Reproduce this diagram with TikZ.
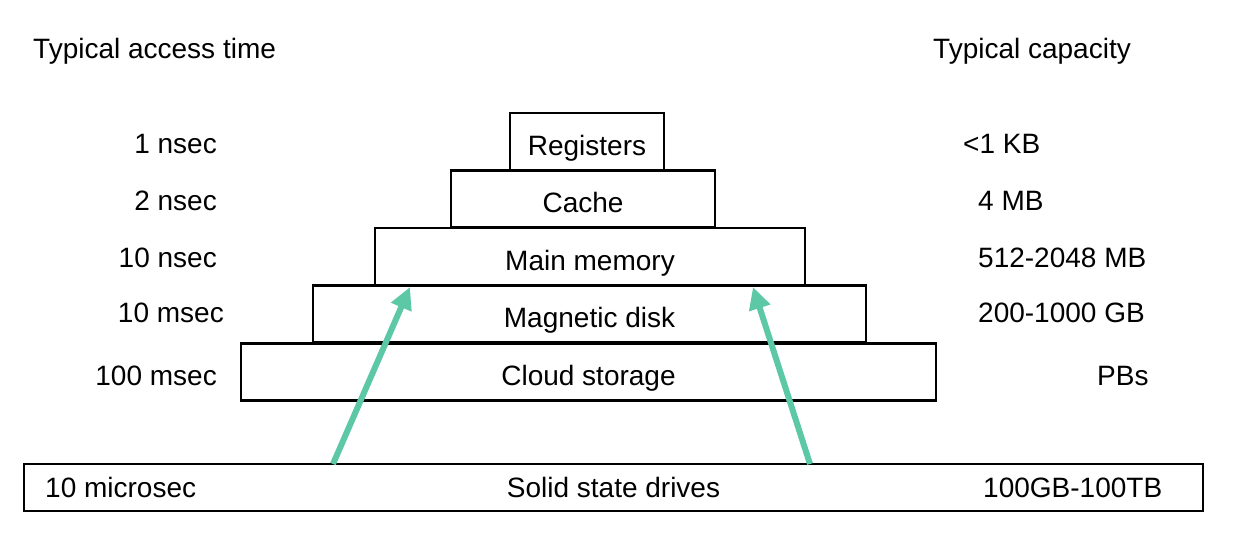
\documentclass[tikz,border=0pt]{standalone}
\usepackage{fontspec}
\setmainfont{Liberation Sans}
\usetikzlibrary{arrows.meta}
\definecolor{teal1}{RGB}{92,200,166}
\begin{document}
\begin{tikzpicture}[x=1pt,y=-1pt,
  every node/.style={font=\fontsize{28}{32}\selectfont, inner sep=0pt},
  box/.style={draw=black, line width=2.4pt, minimum width=#1, anchor=center},
  level/.style={box=#1, minimum height=57pt, text height=27pt, text depth=0pt},
  lbl/.style={anchor=west},
  upar/.style={draw=teal1, line width=6pt, -{Triangle[length=22pt,width=21pt]}}
]
\useasboundingbox (0,0) rectangle (1236,544);
% headings
\node[lbl] (hleft) at (33,51) {Typical access time};
\node[lbl] (hright) at (933,51) {Typical capacity};
% pyramid
\node[level=154pt] (reg) at (587,141.5) {Registers};
\node[level=264pt] (cache) at (583,199) {Cache};
\node[level=430pt] (mm) at (590,256.5) {Main memory};
\node[level=553pt] (md) at (589.5,314) {Magnetic disk};
\node[level=695pt] (cs) at (588.5,372) {Cloud storage};
% SSD
\node[box=1179pt, minimum height=47pt] (ssd) at (613.5,487.5) {Solid state drives};
\coordinate (xl) at (45,0);
\coordinate (xr) at (983,0);
\node[anchor=base west] (ssdt) at (ssd.base -| xl) {10 microsec};
\node[anchor=base west] (ssdc) at (ssd.base -| xr) {100GB-100TB};
% access times
\node[anchor=east] (t1) at (217,144) {1 nsec};
\node[anchor=east] (t2) at (217,201) {2 nsec};
\node[anchor=east] (t3) at (217,258) {10 nsec};
\node[anchor=east] (t4) at (224,313) {10 msec};
\node[anchor=east] (t5) at (217,376) {100 msec};
% capacities
\node[lbl] (c1) at (963,144) {<1 KB};
\node[lbl] (c2) at (978,201) {4 MB};
\node[lbl] (c3) at (978,258) {512-2048 MB};
\node[lbl] (c4) at (978,313) {200-1000 GB};
\node[lbl] (c5) at (1097,376) {PBs};
% arrows
\coordinate (a1s) at (333,464);
\coordinate (a1e) at (410,287);
\coordinate (a2s) at (810,464);
\coordinate (a2e) at (753,287);
\draw[upar] (a1s) -- (a1e);
\draw[upar] (a2s) -- (a2e);
\end{tikzpicture}
\end{document}
